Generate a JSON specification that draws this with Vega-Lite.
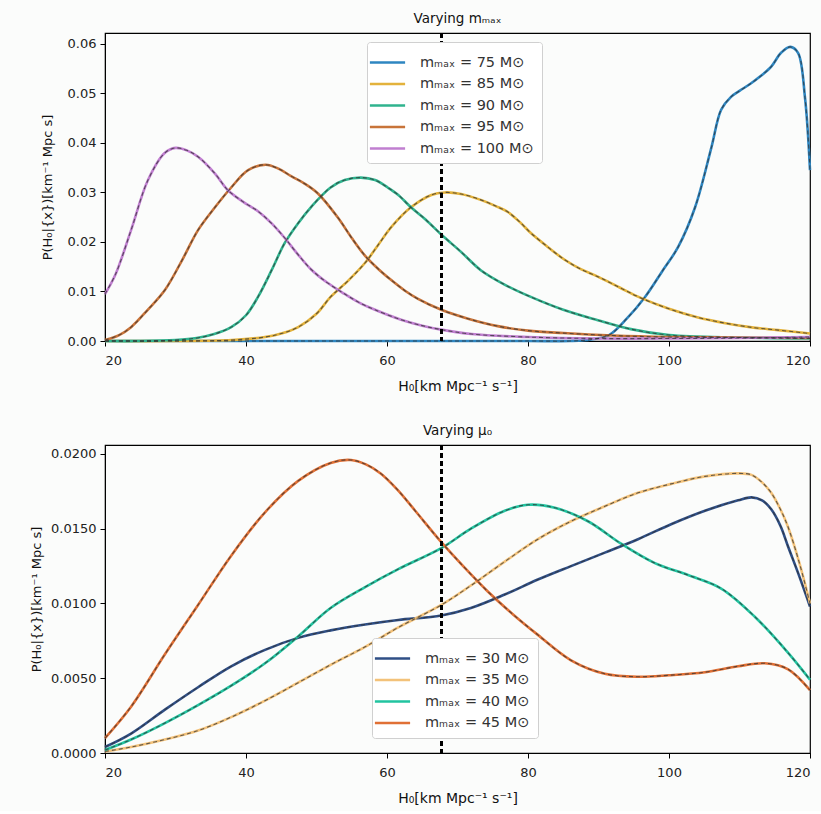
{
  "$schema": "https://vega.github.io/schema/vega-lite/v6.json",
  "background": "#fbfcfb",
  "padding": {"left": 29, "top": 11, "right": 5, "bottom": 5},
  "config": {
    "font": "DejaVu Sans",
    "view": {"stroke": "#000", "strokeWidth": 1.2},
    "axis": {"grid": false, "labelFontSize": 13, "labelColor": "#222", "titleFontSize": 13, "titleFontWeight": "normal", "titleColor": "#111", "domainColor": "#000", "tickColor": "#000", "tickSize": 5},
    "title": {"fontSize": 13.5, "fontWeight": "normal", "color": "#111", "offset": 7},
    "legend": {"orient": "none", "symbolType": "M-1.6,0H1.6", "symbolSize": 484, "symbolStrokeWidth": 2.6, "labelFontSize": 14.5, "labelColor": "#333", "labelOffset": 20, "fillColor": "#ffffff", "strokeColor": "#d0d0d0", "cornerRadius": 3, "padding": 8, "rowPadding": 2.5, "title": null}
  },
  "datasets": {
    "top": [
      {"h":20,"p":0,"s":"mₘₐₓ = 75 M⊙"},{"h":40,"p":0,"s":"mₘₐₓ = 75 M⊙"},{"h":60,"p":0,"s":"mₘₐₓ = 75 M⊙"},{"h":80,"p":0,"s":"mₘₐₓ = 75 M⊙"},{"h":86,"p":0,"s":"mₘₐₓ = 75 M⊙"},{"h":89,"p":0.0003,"s":"mₘₐₓ = 75 M⊙"},{"h":91.5,"p":0.0012,"s":"mₘₐₓ = 75 M⊙"},{"h":94,"p":0.0045,"s":"mₘₐₓ = 75 M⊙"},{"h":96.6,"p":0.0089,"s":"mₘₐₓ = 75 M⊙"},{"h":99,"p":0.014,"s":"mₘₐₓ = 75 M⊙"},{"h":101.3,"p":0.019,"s":"mₘₐₓ = 75 M⊙"},{"h":103.7,"p":0.027,"s":"mₘₐₓ = 75 M⊙"},{"h":106,"p":0.039,"s":"mₘₐₓ = 75 M⊙"},{"h":107.4,"p":0.0467,"s":"mₘₐₓ = 75 M⊙"},{"h":108.8,"p":0.0493,"s":"mₘₐₓ = 75 M⊙"},{"h":110,"p":0.0505,"s":"mₘₐₓ = 75 M⊙"},{"h":111.6,"p":0.052,"s":"mₘₐₓ = 75 M⊙"},{"h":113,"p":0.0535,"s":"mₘₐₓ = 75 M⊙"},{"h":114.5,"p":0.0554,"s":"mₘₐₓ = 75 M⊙"},{"h":115.9,"p":0.0582,"s":"mₘₐₓ = 75 M⊙"},{"h":117.2,"p":0.0594,"s":"mₘₐₓ = 75 M⊙"},{"h":118.3,"p":0.0582,"s":"mₘₐₓ = 75 M⊙"},{"h":119.3,"p":0.049,"s":"mₘₐₓ = 75 M⊙"},{"h":120,"p":0.0345,"s":"mₘₐₓ = 75 M⊙"},
      {"h":20,"p":0,"s":"mₘₐₓ = 85 M⊙"},{"h":30,"p":0,"s":"mₘₐₓ = 85 M⊙"},{"h":38,"p":0.0002,"s":"mₘₐₓ = 85 M⊙"},{"h":42.7,"p":0.0008,"s":"mₘₐₓ = 85 M⊙"},{"h":45,"p":0.0015,"s":"mₘₐₓ = 85 M⊙"},{"h":47.4,"p":0.0028,"s":"mₘₐₓ = 85 M⊙"},{"h":50,"p":0.0055,"s":"mₘₐₓ = 85 M⊙"},{"h":52,"p":0.0089,"s":"mₘₐₓ = 85 M⊙"},{"h":54.5,"p":0.0122,"s":"mₘₐₓ = 85 M⊙"},{"h":56.9,"p":0.0158,"s":"mₘₐₓ = 85 M⊙"},{"h":58.8,"p":0.0195,"s":"mₘₐₓ = 85 M⊙"},{"h":60.6,"p":0.023,"s":"mₘₐₓ = 85 M⊙"},{"h":63.4,"p":0.027,"s":"mₘₐₓ = 85 M⊙"},{"h":66.3,"p":0.0295,"s":"mₘₐₓ = 85 M⊙"},{"h":68.2,"p":0.03,"s":"mₘₐₓ = 85 M⊙"},{"h":70.5,"p":0.0297,"s":"mₘₐₓ = 85 M⊙"},{"h":73.3,"p":0.0285,"s":"mₘₐₓ = 85 M⊙"},{"h":75.5,"p":0.0272,"s":"mₘₐₓ = 85 M⊙"},{"h":77.2,"p":0.026,"s":"mₘₐₓ = 85 M⊙"},{"h":79,"p":0.0238,"s":"mₘₐₓ = 85 M⊙"},{"h":80.4,"p":0.0218,"s":"mₘₐₓ = 85 M⊙"},{"h":82.8,"p":0.019,"s":"mₘₐₓ = 85 M⊙"},{"h":85.2,"p":0.0164,"s":"mₘₐₓ = 85 M⊙"},{"h":87.5,"p":0.0145,"s":"mₘₐₓ = 85 M⊙"},{"h":89.9,"p":0.013,"s":"mₘₐₓ = 85 M⊙"},{"h":93,"p":0.0108,"s":"mₘₐₓ = 85 M⊙"},{"h":96,"p":0.0087,"s":"mₘₐₓ = 85 M⊙"},{"h":100,"p":0.0065,"s":"mₘₐₓ = 85 M⊙"},{"h":104,"p":0.0048,"s":"mₘₐₓ = 85 M⊙"},{"h":108,"p":0.0036,"s":"mₘₐₓ = 85 M⊙"},{"h":112,"p":0.0027,"s":"mₘₐₓ = 85 M⊙"},{"h":115.5,"p":0.0022,"s":"mₘₐₓ = 85 M⊙"},{"h":120,"p":0.0015,"s":"mₘₐₓ = 85 M⊙"},
      {"h":20,"p":0,"s":"mₘₐₓ = 90 M⊙"},{"h":25,"p":0,"s":"mₘₐₓ = 90 M⊙"},{"h":30,"p":0.0002,"s":"mₘₐₓ = 90 M⊙"},{"h":33,"p":0.0006,"s":"mₘₐₓ = 90 M⊙"},{"h":35.5,"p":0.0014,"s":"mₘₐₓ = 90 M⊙"},{"h":37.9,"p":0.0028,"s":"mₘₐₓ = 90 M⊙"},{"h":40,"p":0.0052,"s":"mₘₐₓ = 90 M⊙"},{"h":41.7,"p":0.0089,"s":"mₘₐₓ = 90 M⊙"},{"h":43.6,"p":0.0142,"s":"mₘₐₓ = 90 M⊙"},{"h":45.5,"p":0.0198,"s":"mₘₐₓ = 90 M⊙"},{"h":47.4,"p":0.0238,"s":"mₘₐₓ = 90 M⊙"},{"h":49.2,"p":0.027,"s":"mₘₐₓ = 90 M⊙"},{"h":52,"p":0.031,"s":"mₘₐₓ = 90 M⊙"},{"h":54,"p":0.0325,"s":"mₘₐₓ = 90 M⊙"},{"h":56.3,"p":0.033,"s":"mₘₐₓ = 90 M⊙"},{"h":58.3,"p":0.0325,"s":"mₘₐₓ = 90 M⊙"},{"h":60.1,"p":0.031,"s":"mₘₐₓ = 90 M⊙"},{"h":61.6,"p":0.0295,"s":"mₘₐₓ = 90 M⊙"},{"h":63.4,"p":0.027,"s":"mₘₐₓ = 90 M⊙"},{"h":65.5,"p":0.0245,"s":"mₘₐₓ = 90 M⊙"},{"h":67.7,"p":0.0215,"s":"mₘₐₓ = 90 M⊙"},{"h":70.5,"p":0.018,"s":"mₘₐₓ = 90 M⊙"},{"h":73.3,"p":0.0143,"s":"mₘₐₓ = 90 M⊙"},{"h":76.8,"p":0.0113,"s":"mₘₐₓ = 90 M⊙"},{"h":80.4,"p":0.0089,"s":"mₘₐₓ = 90 M⊙"},{"h":85,"p":0.0063,"s":"mₘₐₓ = 90 M⊙"},{"h":89.9,"p":0.0042,"s":"mₘₐₓ = 90 M⊙"},{"h":94.6,"p":0.0024,"s":"mₘₐₓ = 90 M⊙"},{"h":100,"p":0.0012,"s":"mₘₐₓ = 90 M⊙"},{"h":110,"p":0.0007,"s":"mₘₐₓ = 90 M⊙"},{"h":120,"p":0.0005,"s":"mₘₐₓ = 90 M⊙"},
      {"h":20,"p":0.0002,"s":"mₘₐₓ = 95 M⊙"},{"h":22,"p":0.0012,"s":"mₘₐₓ = 95 M⊙"},{"h":23.7,"p":0.0028,"s":"mₘₐₓ = 95 M⊙"},{"h":26,"p":0.0062,"s":"mₘₐₓ = 95 M⊙"},{"h":28.5,"p":0.0103,"s":"mₘₐₓ = 95 M⊙"},{"h":31,"p":0.0165,"s":"mₘₐₓ = 95 M⊙"},{"h":33.2,"p":0.0224,"s":"mₘₐₓ = 95 M⊙"},{"h":35.6,"p":0.027,"s":"mₘₐₓ = 95 M⊙"},{"h":37.9,"p":0.031,"s":"mₘₐₓ = 95 M⊙"},{"h":40.3,"p":0.0345,"s":"mₘₐₓ = 95 M⊙"},{"h":42.8,"p":0.0356,"s":"mₘₐₓ = 95 M⊙"},{"h":44.6,"p":0.0348,"s":"mₘₐₓ = 95 M⊙"},{"h":46.4,"p":0.0333,"s":"mₘₐₓ = 95 M⊙"},{"h":48.3,"p":0.0318,"s":"mₘₐₓ = 95 M⊙"},{"h":50.2,"p":0.0298,"s":"mₘₐₓ = 95 M⊙"},{"h":53,"p":0.025,"s":"mₘₐₓ = 95 M⊙"},{"h":55,"p":0.0208,"s":"mₘₐₓ = 95 M⊙"},{"h":56.9,"p":0.0172,"s":"mₘₐₓ = 95 M⊙"},{"h":58.8,"p":0.0145,"s":"mₘₐₓ = 95 M⊙"},{"h":60.6,"p":0.0123,"s":"mₘₐₓ = 95 M⊙"},{"h":62.5,"p":0.0102,"s":"mₘₐₓ = 95 M⊙"},{"h":64.4,"p":0.0085,"s":"mₘₐₓ = 95 M⊙"},{"h":67.7,"p":0.0063,"s":"mₘₐₓ = 95 M⊙"},{"h":71.5,"p":0.0045,"s":"mₘₐₓ = 95 M⊙"},{"h":75.7,"p":0.003,"s":"mₘₐₓ = 95 M⊙"},{"h":80,"p":0.0021,"s":"mₘₐₓ = 95 M⊙"},{"h":85,"p":0.0016,"s":"mₘₐₓ = 95 M⊙"},{"h":92,"p":0.0011,"s":"mₘₐₓ = 95 M⊙"},{"h":100,"p":0.0008,"s":"mₘₐₓ = 95 M⊙"},{"h":110,"p":0.0007,"s":"mₘₐₓ = 95 M⊙"},{"h":120,"p":0.0006,"s":"mₘₐₓ = 95 M⊙"},
      {"h":20,"p":0.0095,"s":"mₘₐₓ = 100 M⊙"},{"h":21.5,"p":0.0135,"s":"mₘₐₓ = 100 M⊙"},{"h":23.7,"p":0.0224,"s":"mₘₐₓ = 100 M⊙"},{"h":26.1,"p":0.0325,"s":"mₘₐₓ = 100 M⊙"},{"h":28.5,"p":0.038,"s":"mₘₐₓ = 100 M⊙"},{"h":30,"p":0.039,"s":"mₘₐₓ = 100 M⊙"},{"h":31.6,"p":0.0385,"s":"mₘₐₓ = 100 M⊙"},{"h":33.2,"p":0.0372,"s":"mₘₐₓ = 100 M⊙"},{"h":35.6,"p":0.0338,"s":"mₘₐₓ = 100 M⊙"},{"h":37.4,"p":0.0305,"s":"mₘₐₓ = 100 M⊙"},{"h":39.5,"p":0.0282,"s":"mₘₐₓ = 100 M⊙"},{"h":41.7,"p":0.0262,"s":"mₘₐₓ = 100 M⊙"},{"h":43.6,"p":0.0238,"s":"mₘₐₓ = 100 M⊙"},{"h":45.5,"p":0.0208,"s":"mₘₐₓ = 100 M⊙"},{"h":47.3,"p":0.0176,"s":"mₘₐₓ = 100 M⊙"},{"h":49.2,"p":0.0145,"s":"mₘₐₓ = 100 M⊙"},{"h":51.5,"p":0.0118,"s":"mₘₐₓ = 100 M⊙"},{"h":54,"p":0.0095,"s":"mₘₐₓ = 100 M⊙"},{"h":56,"p":0.0078,"s":"mₘₐₓ = 100 M⊙"},{"h":58.3,"p":0.0063,"s":"mₘₐₓ = 100 M⊙"},{"h":62,"p":0.0043,"s":"mₘₐₓ = 100 M⊙"},{"h":65,"p":0.0031,"s":"mₘₐₓ = 100 M⊙"},{"h":67.7,"p":0.0023,"s":"mₘₐₓ = 100 M⊙"},{"h":72,"p":0.0014,"s":"mₘₐₓ = 100 M⊙"},{"h":80,"p":0.0008,"s":"mₘₐₓ = 100 M⊙"},{"h":90,"p":0.0005,"s":"mₘₐₓ = 100 M⊙"},{"h":100,"p":0.0005,"s":"mₘₐₓ = 100 M⊙"},{"h":110,"p":0.0006,"s":"mₘₐₓ = 100 M⊙"},{"h":120,"p":0.0008,"s":"mₘₐₓ = 100 M⊙"}
    ],
    "bot": [
      {"h":20,"p":0.0004,"s":"mₘₐₓ = 30 M⊙"},{"h":23.7,"p":0.0013,"s":"mₘₐₓ = 30 M⊙"},{"h":28.5,"p":0.0029,"s":"mₘₐₓ = 30 M⊙"},{"h":33.2,"p":0.0044,"s":"mₘₐₓ = 30 M⊙"},{"h":37.9,"p":0.0058,"s":"mₘₐₓ = 30 M⊙"},{"h":42.7,"p":0.0069,"s":"mₘₐₓ = 30 M⊙"},{"h":47.4,"p":0.0077,"s":"mₘₐₓ = 30 M⊙"},{"h":52,"p":0.0082,"s":"mₘₐₓ = 30 M⊙"},{"h":56.9,"p":0.0086,"s":"mₘₐₓ = 30 M⊙"},{"h":61.6,"p":0.0089,"s":"mₘₐₓ = 30 M⊙"},{"h":67.7,"p":0.0092,"s":"mₘₐₓ = 30 M⊙"},{"h":71.9,"p":0.0097,"s":"mₘₐₓ = 30 M⊙"},{"h":76.7,"p":0.0106,"s":"mₘₐₓ = 30 M⊙"},{"h":81.4,"p":0.0116,"s":"mₘₐₓ = 30 M⊙"},{"h":86.1,"p":0.0125,"s":"mₘₐₓ = 30 M⊙"},{"h":90.9,"p":0.0134,"s":"mₘₐₓ = 30 M⊙"},{"h":95.6,"p":0.0143,"s":"mₘₐₓ = 30 M⊙"},{"h":100.3,"p":0.0153,"s":"mₘₐₓ = 30 M⊙"},{"h":105.1,"p":0.0162,"s":"mₘₐₓ = 30 M⊙"},{"h":109.8,"p":0.0169,"s":"mₘₐₓ = 30 M⊙"},{"h":111.7,"p":0.0171,"s":"mₘₐₓ = 30 M⊙"},{"h":113.2,"p":0.0169,"s":"mₘₐₓ = 30 M⊙"},{"h":114.5,"p":0.0163,"s":"mₘₐₓ = 30 M⊙"},{"h":115.8,"p":0.0152,"s":"mₘₐₓ = 30 M⊙"},{"h":116.9,"p":0.0138,"s":"mₘₐₓ = 30 M⊙"},{"h":118.5,"p":0.0118,"s":"mₘₐₓ = 30 M⊙"},{"h":120,"p":0.0098,"s":"mₘₐₓ = 30 M⊙"},
      {"h":20,"p":0.0001,"s":"mₘₐₓ = 35 M⊙"},{"h":23.7,"p":0.0004,"s":"mₘₐₓ = 35 M⊙"},{"h":28.5,"p":0.0009,"s":"mₘₐₓ = 35 M⊙"},{"h":33.2,"p":0.0015,"s":"mₘₐₓ = 35 M⊙"},{"h":37.9,"p":0.0024,"s":"mₘₐₓ = 35 M⊙"},{"h":42.7,"p":0.0035,"s":"mₘₐₓ = 35 M⊙"},{"h":47.4,"p":0.0047,"s":"mₘₐₓ = 35 M⊙"},{"h":52,"p":0.0059,"s":"mₘₐₓ = 35 M⊙"},{"h":56.9,"p":0.0071,"s":"mₘₐₓ = 35 M⊙"},{"h":61.6,"p":0.0084,"s":"mₘₐₓ = 35 M⊙"},{"h":67.7,"p":0.0099,"s":"mₘₐₓ = 35 M⊙"},{"h":71.9,"p":0.0112,"s":"mₘₐₓ = 35 M⊙"},{"h":76.7,"p":0.0128,"s":"mₘₐₓ = 35 M⊙"},{"h":81.4,"p":0.0143,"s":"mₘₐₓ = 35 M⊙"},{"h":86.1,"p":0.0155,"s":"mₘₐₓ = 35 M⊙"},{"h":90.9,"p":0.0165,"s":"mₘₐₓ = 35 M⊙"},{"h":95.6,"p":0.0174,"s":"mₘₐₓ = 35 M⊙"},{"h":100.3,"p":0.018,"s":"mₘₐₓ = 35 M⊙"},{"h":105.1,"p":0.0185,"s":"mₘₐₓ = 35 M⊙"},{"h":109.8,"p":0.0187,"s":"mₘₐₓ = 35 M⊙"},{"h":111.7,"p":0.0186,"s":"mₘₐₓ = 35 M⊙"},{"h":113.2,"p":0.0181,"s":"mₘₐₓ = 35 M⊙"},{"h":114.5,"p":0.0174,"s":"mₘₐₓ = 35 M⊙"},{"h":115.8,"p":0.0163,"s":"mₘₐₓ = 35 M⊙"},{"h":116.9,"p":0.0151,"s":"mₘₐₓ = 35 M⊙"},{"h":118.5,"p":0.0127,"s":"mₘₐₓ = 35 M⊙"},{"h":120,"p":0.01,"s":"mₘₐₓ = 35 M⊙"},
      {"h":20,"p":0.0002,"s":"mₘₐₓ = 40 M⊙"},{"h":23.7,"p":0.0009,"s":"mₘₐₓ = 40 M⊙"},{"h":28.5,"p":0.002,"s":"mₘₐₓ = 40 M⊙"},{"h":33.2,"p":0.0032,"s":"mₘₐₓ = 40 M⊙"},{"h":37.9,"p":0.0045,"s":"mₘₐₓ = 40 M⊙"},{"h":42.7,"p":0.006,"s":"mₘₐₓ = 40 M⊙"},{"h":47.4,"p":0.0078,"s":"mₘₐₓ = 40 M⊙"},{"h":52,"p":0.0097,"s":"mₘₐₓ = 40 M⊙"},{"h":56.9,"p":0.0111,"s":"mₘₐₓ = 40 M⊙"},{"h":61.6,"p":0.0123,"s":"mₘₐₓ = 40 M⊙"},{"h":67.7,"p":0.0137,"s":"mₘₐₓ = 40 M⊙"},{"h":71.9,"p":0.015,"s":"mₘₐₓ = 40 M⊙"},{"h":76.7,"p":0.0162,"s":"mₘₐₓ = 40 M⊙"},{"h":80,"p":0.0166,"s":"mₘₐₓ = 40 M⊙"},{"h":83.8,"p":0.0164,"s":"mₘₐₓ = 40 M⊙"},{"h":88.5,"p":0.0155,"s":"mₘₐₓ = 40 M⊙"},{"h":93.2,"p":0.014,"s":"mₘₐₓ = 40 M⊙"},{"h":98,"p":0.0127,"s":"mₘₐₓ = 40 M⊙"},{"h":102.7,"p":0.0119,"s":"mₘₐₓ = 40 M⊙"},{"h":107.4,"p":0.011,"s":"mₘₐₓ = 40 M⊙"},{"h":112.2,"p":0.0091,"s":"mₘₐₓ = 40 M⊙"},{"h":116.9,"p":0.0067,"s":"mₘₐₓ = 40 M⊙"},{"h":120,"p":0.0049,"s":"mₘₐₓ = 40 M⊙"},
      {"h":20,"p":0.001,"s":"mₘₐₓ = 45 M⊙"},{"h":23.7,"p":0.0031,"s":"mₘₐₓ = 45 M⊙"},{"h":28.5,"p":0.0066,"s":"mₘₐₓ = 45 M⊙"},{"h":33.2,"p":0.0099,"s":"mₘₐₓ = 45 M⊙"},{"h":37.9,"p":0.0132,"s":"mₘₐₓ = 45 M⊙"},{"h":42.7,"p":0.0161,"s":"mₘₐₓ = 45 M⊙"},{"h":47.4,"p":0.0182,"s":"mₘₐₓ = 45 M⊙"},{"h":52,"p":0.0194,"s":"mₘₐₓ = 45 M⊙"},{"h":54.9,"p":0.0196,"s":"mₘₐₓ = 45 M⊙"},{"h":57,"p":0.0193,"s":"mₘₐₓ = 45 M⊙"},{"h":59.1,"p":0.0187,"s":"mₘₐₓ = 45 M⊙"},{"h":61.5,"p":0.0176,"s":"mₘₐₓ = 45 M⊙"},{"h":64,"p":0.0162,"s":"mₘₐₓ = 45 M⊙"},{"h":67.7,"p":0.0141,"s":"mₘₐₓ = 45 M⊙"},{"h":71,"p":0.0124,"s":"mₘₐₓ = 45 M⊙"},{"h":74.3,"p":0.0108,"s":"mₘₐₓ = 45 M⊙"},{"h":77.8,"p":0.0093,"s":"mₘₐₓ = 45 M⊙"},{"h":81.4,"p":0.0079,"s":"mₘₐₓ = 45 M⊙"},{"h":86.1,"p":0.0062,"s":"mₘₐₓ = 45 M⊙"},{"h":90.9,"p":0.0053,"s":"mₘₐₓ = 45 M⊙"},{"h":95.6,"p":0.0051,"s":"mₘₐₓ = 45 M⊙"},{"h":100,"p":0.0052,"s":"mₘₐₓ = 45 M⊙"},{"h":105.1,"p":0.0054,"s":"mₘₐₓ = 45 M⊙"},{"h":109.8,"p":0.0058,"s":"mₘₐₓ = 45 M⊙"},{"h":113.6,"p":0.006,"s":"mₘₐₓ = 45 M⊙"},{"h":116.9,"p":0.0056,"s":"mₘₐₓ = 45 M⊙"},{"h":120,"p":0.0042,"s":"mₘₐₓ = 45 M⊙"}
    ]
  },
  "bounds": "flush",
  "spacing": 104,
  "resolve": {"scale": {"color": "independent"}},
  "vconcat": [
    {
      "width": 705,
      "height": 308,
      "title": "Varying mₘₐₓ",
      "data": {"name": "top"},
      "layer": [
        {
          "mark": {"type": "line", "strokeWidth": 2.6, "interpolate": "catmull-rom"},
          "encoding": {
            "x": {"field": "h", "type": "quantitative", "scale": {"domain": [20, 120], "nice": false}, "axis": {"values": [20, 40, 60, 80, 100, 120], "title": "H₀[km Mpc⁻¹ s⁻¹]", "labelPadding": 8, "titlePadding": 12, "titleFontSize": 14}},
            "y": {"field": "p", "type": "quantitative", "scale": {"domain": [0, 0.0622], "nice": false}, "axis": {"values": [0, 0.01, 0.02, 0.03, 0.04, 0.05, 0.06], "format": ".2f", "title": "P(H₀|{x})[km⁻¹ Mpc s]", "labelPadding": 4, "titlePadding": 13}},
            "color": {"field": "s", "type": "nominal", "scale": {"domain": ["mₘₐₓ = 75 M⊙", "mₘₐₓ = 85 M⊙", "mₘₐₓ = 90 M⊙", "mₘₐₓ = 95 M⊙", "mₘₐₓ = 100 M⊙"], "range": ["#2e86c1", "#e3b23c", "#2fb38e", "#c8743a", "#c07fd0"]}, "legend": {"legendX": 262, "legendY": 9}}
          }
        },
        {
          "mark": {"type": "line", "strokeWidth": 1.1, "strokeDash": [4, 3], "color": "#333333", "opacity": 0.75, "interpolate": "catmull-rom"},
          "encoding": {
            "x": {"field": "h", "type": "quantitative"},
            "y": {"field": "p", "type": "quantitative"},
            "detail": {"field": "s", "type": "nominal"}
          }
        },
        {
          "mark": {"type": "rule", "color": "#000", "strokeWidth": 1.5, "strokeDash": [5, 3]},
          "encoding": {"x": {"datum": 67.7}}
        }
      ]
    },
    {
      "width": 705,
      "height": 308,
      "title": "Varying μ₀",
      "data": {"name": "bot"},
      "layer": [
        {
          "mark": {"type": "line", "strokeWidth": 2.6, "interpolate": "catmull-rom"},
          "encoding": {
            "x": {"field": "h", "type": "quantitative", "scale": {"domain": [20, 120], "nice": false}, "axis": {"values": [20, 40, 60, 80, 100, 120], "title": "H₀[km Mpc⁻¹ s⁻¹]", "labelPadding": 8, "titlePadding": 12, "titleFontSize": 14}},
            "y": {"field": "p", "type": "quantitative", "scale": {"domain": [0, 0.0206], "nice": false}, "axis": {"values": [0, 0.0025, 0.005, 0.0075, 0.01, 0.0125, 0.015, 0.0175, 0.02], "format": ".4f", "title": "P(H₀|{x})[km⁻¹ Mpc s]", "labelPadding": 4, "titlePadding": 7}},
            "color": {"field": "s", "type": "nominal", "scale": {"domain": ["mₘₐₓ = 30 M⊙", "mₘₐₓ = 35 M⊙", "mₘₐₓ = 40 M⊙", "mₘₐₓ = 45 M⊙"], "range": ["#2f4f86", "#f3c27a", "#22c4a0", "#e07035"]}, "legend": {"legendX": 267, "legendY": 193}}
          }
        },
        {
          "mark": {"type": "line", "strokeWidth": 1.1, "strokeDash": [4, 3], "color": "#333333", "opacity": 0.75, "interpolate": "catmull-rom"},
          "encoding": {
            "x": {"field": "h", "type": "quantitative"},
            "y": {"field": "p", "type": "quantitative"},
            "detail": {"field": "s", "type": "nominal"}
          }
        },
        {
          "mark": {"type": "rule", "color": "#000", "strokeWidth": 1.5, "strokeDash": [5, 3]},
          "encoding": {"x": {"datum": 67.7}}
        }
      ]
    }
  ]
}
